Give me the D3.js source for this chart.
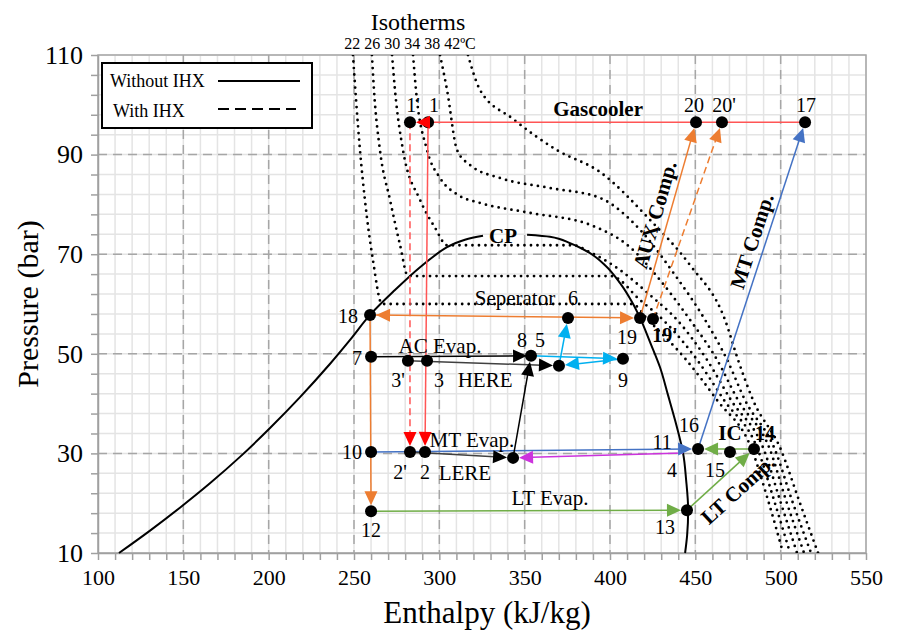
<!DOCTYPE html>
<html><head><meta charset="utf-8">
<script src="https://cdn.jsdelivr.net/npm/d3@7"></script>
<style>
body{margin:0;background:#fff}
svg{display:block}
text{font-family:"Liberation Serif","Times New Roman",serif;fill:#000}
</style>
</head><body>
<svg id="c" width="907" height="631"></svg>
<script>
// ---------- data ----------
const xTicks = [100,150,200,250,300,350,400,450,500,550];
const yTicks = [10,30,50,70,90,110];
const isoLabels = [22,26,30,34,38,42];

const satLiquid = [[112.3,10],[130.5,14.5],[148.0,19.1],[165.6,24.0],[183.2,29.3],[200.8,35.1],[218.4,41.3],[236.0,48.0],[247.7,52.8],[259.4,57.8],[274.0,62.8],[288.7,67.4],[304.5,71.4],[315.0,72.9],[325.6,73.7]];
const satVapor = [[351.4,73.9],[364.8,73.5],[376.6,72.2],[388.3,70.2],[397.1,67.8],[405.9,64.2],[412.9,60.4],[417.6,57.2],[423.4,52.4],[429.3,47.3],[434.0,41.7],[438.1,36.7],[441.1,32.7],[442.8,30.1],[444.6,24.7],[445.8,18.6],[445.2,13.6],[444.0,10]];

const iso22 = [[249.4,110],[251.2,101.0],[253.5,90.9],[256.4,80.9],[261.1,68.8],[266.4,60.0],[412.9,60.0],[422.3,56.8],[444.6,48.8],[462.7,40.7],[483.2,30.7],[492.6,20.6],[501.4,10]];
const iso26 = [[260.5,110],[261.7,103.0],[265.2,90.9],[271.1,80.9],[277.0,71.8],[281.6,65.6],[400.6,65.6],[417.6,60.8],[431.1,56.8],[451.0,48.8],[466.8,40.7],[486.7,30.7],[496.1,20.6],[505.5,10]];
const iso30 = [[272.3,110],[274.0,103.0],[278.7,90.9],[288.7,80.9],[297.5,75.3],[304.5,71.8],[378.3,71.8],[388.3,70.4],[405.9,66.8],[423.4,61.8],[439.3,56.8],[456.8,48.8],[470.9,40.7],[490.2,30.7],[499.6,20.6],[509.6,10]];
const iso34 = [[284.6,110],[286.3,103.0],[292.8,90.9],[300.4,85.3],[310.9,81.9],[323.8,80.3],[353.1,78.3],[388.3,75.9],[411.7,71.4],[429.3,64.8],[446.9,56.8],[462.7,48.8],[475.0,40.7],[493.8,30.7],[503.1,20.6],[513.7,10]];
const iso38 = [[300.4,110],[304.5,103.0],[310.4,90.9],[318.0,87.9],[335.5,85.3],[364.8,83.3],[394.1,81.3],[417.6,74.9],[438.1,65.8],[455.7,56.8],[468.6,48.8],[479.1,40.7],[496.7,30.7],[506.6,20.6],[517.8,10]];
const iso42 = [[316.8,110],[320.3,106.0],[323.8,103.0],[343.0,97.2],[368.9,90.9],[394.1,86.5],[423.4,76.9],[446.9,67.8],[467.4,56.8],[475.0,48.8],[483.8,40.7],[500.2,30.7],[510.7,20.6],[521.9,10]];
const isotherms = [iso22, iso26, iso30, iso34, iso38, iso42];

// state points [enthalpy kJ/kg, pressure bar]
const states = {
  "1'":[282.8,96.5], "1":[293.4,96.5], "20":[450.4,96.5], "20'":[465.6,96.5], "17":[514.3,96.5],
  "18":[259.4,57.8], "7":[260.0,49.4], "3'":[281.6,48.6], "3":[292.8,48.6],
  "8":[351.4,49.6], "5":[353.7,49.6], "H":[370.1,47.6], "M":[353.1,48.4], "6":[375.4,57.2], "9":[407.6,49.0],
  "19":[417.6,57.2], "19'":[425.2,57.0],
  "10":[260.0,30.3], "2'":[282.8,30.3], "2":[291.6,30.3], "L":[343.2,29.1],
  "11":[446.9,30.3], "4":[442.8,30.1], "16":[451.6,30.9], "15":[470.3,30.3], "14":[484.4,30.9],
  "13":[445.1,18.6], "12":[260.0,18.4]
};
const dotted = ["1'","1","20","20'","17","18","7","3'","3","5","H","6","9","19","19'","10","2'","2","L","16","15","14","13","12"];

const processes = [
  ["17","1'","red"],["1","2","red"],["1'","2'","redDash"],
  ["18","19","orangeBoth"],["19","20","orange"],["19'","20'","orangeDash"],["18","12","orange"],
  ["10","16","blue"],["16","17","blue"],
  ["12","13","green"],["13","14","green"],["14","16","green"],
  ["4","L","magenta"],
  ["5","9","cyan"],["9","H","cyan"],["H","6","cyan"],
  ["7","8","black"],["3'","H","gray"],["2'","L","gray"],["L","M","black"]
];

// ---------- styles ----------
const S = {
  red:{c:"#ff5555",a:"#ff0000"}, redDash:{c:"#ff5555",a:"#ff0000",dash:"7,4"},
  orange:{c:"#ed7d31",a:"#ed7d31"}, orangeDash:{c:"#ed7d31",a:"#ed7d31",dash:"7,4"},
  orangeBoth:{c:"#ed7d31",a:"#ed7d31",both:true},
  blue:{c:"#4472c4",a:"#4472c4"}, green:{c:"#70ad47",a:"#70ad47"},
  magenta:{c:"#cc33dd",a:"#cc33dd"}, cyan:{c:"#00b0f0",a:"#00b0f0"},
  black:{c:"#000",a:"#000"}, gray:{c:"#404040",a:"#000"}
};

const m = {l:98, r:866, t:55, b:553};
const x = d3.scaleLinear().domain([100,550]).range([m.l,m.r]);
const y = d3.scaleLinear().domain([10,110]).range([m.b,m.t]);
const svg = d3.select("#c");

// ---------- grid ----------
const grid = svg.append("g");
grid.selectAll(".vx").data(d3.range(100,551,10)).join("line")
  .attr("x1",d=>x(d)).attr("x2",d=>x(d)).attr("y1",m.t).attr("y2",m.b)
  .attr("stroke","#e4e4e4").attr("stroke-width",1.5);
grid.selectAll(".hy").data(d3.range(10,111,4)).join("line")
  .attr("y1",d=>y(d)).attr("y2",d=>y(d)).attr("x1",m.l).attr("x2",m.r)
  .attr("stroke","#e4e4e4").attr("stroke-width",1.5);
grid.selectAll(".mx").data(xTicks.slice(1,-1)).join("line")
  .attr("x1",d=>x(d)).attr("x2",d=>x(d)).attr("y1",m.t).attr("y2",m.b)
  .attr("stroke","#a6a6a6").attr("stroke-width",1.5).attr("stroke-dasharray","9,6");
grid.selectAll(".my").data(yTicks.slice(1,-1)).join("line")
  .attr("y1",d=>y(d)).attr("y2",d=>y(d)).attr("x1",m.l).attr("x2",m.r)
  .attr("stroke","#a6a6a6").attr("stroke-width",1.5).attr("stroke-dasharray","9,6");
svg.append("rect").attr("x",m.l).attr("y",m.t).attr("width",m.r-m.l).attr("height",m.b-m.t)
  .attr("fill","none").attr("stroke","#a6a6a6").attr("stroke-width",1.5);

// ---------- axes ----------
const ax = svg.append("g").attr("transform",`translate(0,${m.b})`)
  .call(d3.axisBottom(x).tickValues(d3.range(100,551,10)).tickSize(7).tickSizeOuter(0).tickPadding(9)
  .tickFormat(d=>xTicks.includes(d)?d:""));
const ay = svg.append("g").attr("transform",`translate(${m.l},0)`)
  .call(d3.axisLeft(y).tickValues(d3.range(10,111,4)).tickSize(7).tickSizeOuter(0).tickPadding(8)
  .tickFormat(d=>yTicks.includes(d)?d:""));
[ax,ay].forEach(a=>{
  a.selectAll("path,line").attr("stroke","#a0a0a0").attr("stroke-width",1.5);
  a.selectAll("text").style("font-family","Liberation Serif").attr("fill","#000");
});
ax.selectAll("text").style("font-size","22px");
ay.selectAll("text").style("font-size","26px");
svg.append("text").attr("x",(m.l+m.r)/2+5).attr("y",612).attr("text-anchor","middle")
  .attr("dominant-baseline","central").style("font-size","31px").text("Enthalpy (kJ/kg)");
svg.append("text").attr("transform",`translate(27,${(m.t+m.b)/2}) rotate(-90)`).attr("text-anchor","middle")
  .attr("dominant-baseline","central").style("font-size","30px").text("Pressure (bar)");

// ---------- isotherms ----------
svg.append("clipPath").attr("id","pa").append("rect")
  .attr("x",m.l).attr("y",m.t).attr("width",m.r-m.l).attr("height",m.b-m.t);
const lineX = d3.line().x(d=>x(d[0])).y(d=>y(d[1])).curve(d3.curveMonotoneX);
svg.append("g").attr("clip-path","url(#pa)").selectAll("path").data(isotherms).join("path")
  .attr("d",lineX).attr("fill","none").attr("stroke","#000").attr("stroke-width",2.8)
  .attr("stroke-linecap","round").attr("stroke-dasharray","0,6.5");
svg.append("text").attr("x",x(287.5)).attr("y",y(116.6)).attr("text-anchor","middle")
  .attr("dominant-baseline","central").style("font-size","24px").text("Isotherms");
svg.append("text").attr("x",x(282.8)).attr("y",y(112.3)).attr("text-anchor","middle")
  .attr("dominant-baseline","central").style("font-size","16px")
  .text(isoLabels.join(" ")+"\u00baC");

// ---------- dome ----------
svg.append("path").datum(satLiquid)
  .attr("d",d3.line().x(d=>x(d[0])).y(d=>y(d[1])).curve(d3.curveCatmullRom.alpha(0.5)))
  .attr("fill","none").attr("stroke","#000").attr("stroke-width",2);
svg.append("path").datum(satVapor)
  .attr("d",d3.line().x(d=>x(d[0])).y(d=>y(d[1])).curve(d3.curveMonotoneY))
  .attr("fill","none").attr("stroke","#000").attr("stroke-width",2);

// ---------- processes ----------
const R = 6, AL = 14, AW = 6.5;
const P = k => [x(states[k][0]), y(states[k][1])];
const gl = svg.append("g"), gd = svg.append("g"), ga = svg.append("g");
function head(tip, ang, col){
  const bx = tip[0]-AL*Math.cos(ang), by = tip[1]-AL*Math.sin(ang);
  const s = Math.sin(ang), c = Math.cos(ang);
  ga.append("path").attr("d",`M${tip[0]},${tip[1]}L${bx-AW*s},${by+AW*c}L${bx+AW*s},${by-AW*c}Z`).attr("fill",col);
}
processes.forEach(([a,b,k])=>{
  const st = S[k], p1 = P(a), p2 = P(b);
  const ang = Math.atan2(p2[1]-p1[1], p2[0]-p1[0]);
  const shE = dotted.includes(b) ? R : 0;
  const tip = [p2[0]-shE*Math.cos(ang), p2[1]-shE*Math.sin(ang)];
  let start = p1;
  if (st.both){
    const shS = dotted.includes(a) ? R : 0;
    start = [p1[0]+shS*Math.cos(ang), p1[1]+shS*Math.sin(ang)];
    head(start, ang+Math.PI, st.a);
  }
  const end = [tip[0]-4*Math.cos(ang), tip[1]-4*Math.sin(ang)];
  gl.append("line").attr("x1",start[0]).attr("y1",start[1]).attr("x2",end[0]).attr("y2",end[1])
    .attr("stroke",st.c).attr("stroke-width",1.5).attr("stroke-dasharray",st.dash||null);
  head(tip, ang, st.a);
});
gd.selectAll("circle").data(dotted).join("circle")
  .attr("cx",d=>P(d)[0]).attr("cy",d=>P(d)[1]).attr("r",R).attr("fill","#000");

// ---------- labels ----------
const off = {"1'":[3,-17],"1":[6,-17],"20":[-2,-17],"20'":[2,-17],"17":[1,-17],"18":[-22,1],"7":[-14,1],
  "3'":[-10,19],"3":[12,19],"8":[-5,-16],"5":[9,-16],"6":[5,-20],"9":[0,21],"19":[-13,19],"19'":[12,16],
  "10":[-19,0],"2'":[-10,20],"2":[0,20],"11":[-28,-10],"4":[-11,17],"16":[-9,-24],"15":[-15,18],
  "14":[11,-16],"13":[-22,17],"12":[0,19]};
const boldL = ["19'","14"];
Object.keys(off).forEach(k=>{
  const p = P(k);
  svg.append("text").attr("x",p[0]+off[k][0]).attr("y",p[1]+off[k][1]).attr("text-anchor","middle")
    .attr("dominant-baseline","central").style("font-size","20px")
    .style("font-weight",boldL.includes(k)?"bold":"normal").text(k);
});
const notes = [
  {t:"Gascooler",h:393.0,p:99.2,b:1},{t:"CP",h:337.3,p:73.7,b:1},{t:"Seperator",h:344.3,p:61.2},
  {t:"AC Evap.",h:300.4,p:51.6},{t:"HERE",h:326.8,p:44.7},{t:"MT Evap.",h:319.1,p:32.7},
  {t:"LERE",h:315.0,p:26.1},{t:"LT Evap.",h:364.8,p:21.0},{t:"IC",h:470.3,p:34.1,b:1},
  {t:"AUX Comp.",h:426.4,p:77.9,b:1,along:["19","20"]},
  {t:"MT Comp.",h:483.2,p:72.6,b:1,along:["16","17"]},
  {t:"LT Comp.",h:475.0,p:22.7,b:1,along:["13","14"]}
];
notes.forEach(n=>{
  let rot = 0;
  if (n.along){ const a=P(n.along[0]), b=P(n.along[1]); rot = Math.atan2(b[1]-a[1], b[0]-a[0])*180/Math.PI; }
  svg.append("text").attr("transform",`translate(${x(n.h)},${y(n.p)}) rotate(${rot})`)
    .attr("text-anchor","middle").attr("dominant-baseline","central")
    .style("font-size","21px").style("font-weight",n.b?"bold":"normal").text(n.t);
});

// ---------- legend ----------
const lg = svg.append("g");
lg.append("rect").attr("x",102).attr("y",63).attr("width",210).attr("height",65)
  .attr("fill","#fff").attr("stroke","#000").attr("stroke-width",2);
lg.append("text").attr("x",110).attr("y",81).attr("dominant-baseline","central").style("font-size","18px").text("Without IHX");
lg.append("text").attr("x",113).attr("y",111).attr("dominant-baseline","central").style("font-size","18px").text("With IHX");
lg.append("line").attr("x1",218).attr("x2",300).attr("y1",81).attr("y2",81).attr("stroke","#000").attr("stroke-width",2);
lg.append("line").attr("x1",218).attr("x2",296).attr("y1",109).attr("y2",109).attr("stroke","#000").attr("stroke-width",2).attr("stroke-dasharray","11,6");
</script>
</body></html>
